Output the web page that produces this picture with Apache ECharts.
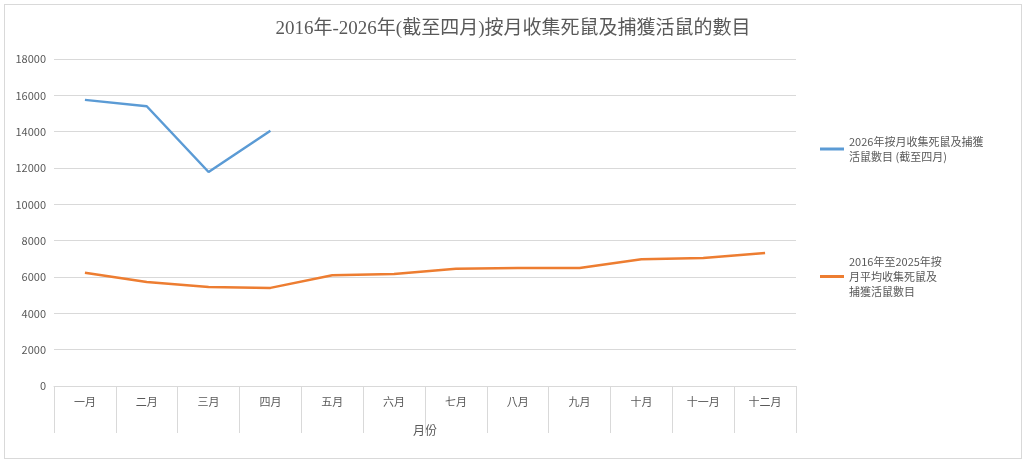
<!DOCTYPE html>
<html><head><meta charset="utf-8">
<script src="https://cdn.jsdelivr.net/npm/echarts@6/dist/echarts.min.js"></script>
<style>html,body{margin:0;padding:0;background:#fff}
#c{position:absolute;left:4px;top:4px;width:1018px;height:455px;border:1px solid #d9d9d9;box-sizing:border-box}</style>
</head><body><div id="c"></div>
<script>
const categories=['一月','二月','三月','四月','五月','六月','七月','八月','九月','十月','十一月','十二月'];
const series2026=[15750,15400,11780,14050];
const seriesAvg=[6230,5720,5450,5400,6100,6170,6450,6500,6500,6980,7050,7320];
const name2026='2026年按月收集死鼠及捕獲活鼠數目 (截至四月)';
const nameAvg='2016年至2025年按月平均收集死鼠及捕獲活鼠數目';
const wrap={[name2026]:'2026年按月收集死鼠及捕獲\n活鼠數目 (截至四月)',[nameAvg]:'2016年至2025年按\n月平均收集死鼠及\n捕獲活鼠數目'};
const f='"Noto Sans CJK TC", sans-serif';
const c=echarts.init(document.getElementById('c'));
c.setOption({
 animation:false,
 title:{text:'2016年-2026年(截至四月)按月收集死鼠及捕獲活鼠的數目',top:10,left:'center',
   textStyle:{fontFamily:'"Liberation Serif","Noto Sans CJK TC",serif',fontSize:19,fontWeight:'normal',color:'#595959'}},
 grid:{left:49,top:54,width:742,height:327},
 legend:[
  {data:[name2026],left:810,top:124,itemWidth:24,itemHeight:3,icon:'rect',formatter:n=>wrap[n],textStyle:{fontFamily:f,fontSize:11,color:'#595959',lineHeight:15}},
  {data:[nameAvg],left:810,top:244,itemWidth:24,itemHeight:3,icon:'rect',formatter:n=>wrap[n],textStyle:{fontFamily:f,fontSize:11,color:'#595959',lineHeight:15}}
 ],
 xAxis:{type:'category',data:categories,boundaryGap:true,name:'月份',nameLocation:'middle',nameGap:38,
   nameTextStyle:{fontFamily:f,fontSize:12,color:'#595959'},
   axisLine:{lineStyle:{color:'#d9d9d9'}},axisTick:{show:true,length:47,interval:0,lineStyle:{color:'#d9d9d9'}},
   axisLabel:{fontFamily:f,fontSize:11,color:'#595959',margin:10}},
 yAxis:{type:'value',min:0,max:18000,interval:2000,
   axisLabel:{fontFamily:f,fontSize:11,color:'#595959',formatter:v=>String(v)},
   splitLine:{lineStyle:{color:'#d9d9d9'}},axisLine:{show:false}},
 series:[
  {name:name2026,type:'line',data:series2026,symbol:'none',lineStyle:{width:2.5,color:'#5b9bd5'},itemStyle:{color:'#5b9bd5'}},
  {name:nameAvg,type:'line',data:seriesAvg,symbol:'none',lineStyle:{width:2.5,color:'#ed7d31'},itemStyle:{color:'#ed7d31'}}
 ]
});
</script></body></html>
